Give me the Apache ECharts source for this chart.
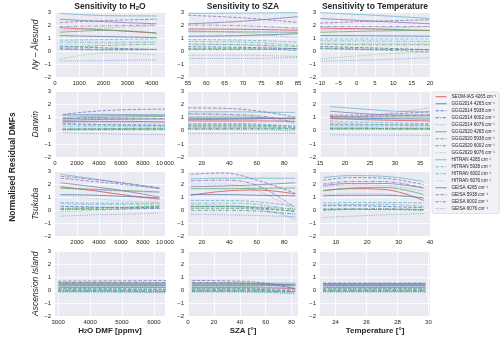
<!DOCTYPE html>
<html>
<head>
<meta charset="utf-8">
<script src="https://cdn.jsdelivr.net/npm/echarts@6/dist/echarts.min.js"></script>
<style>
html, body { margin: 0; padding: 0; background: #fff; }
#main { width: 500px; height: 338px; }
</style>
</head>
<body>
<div id="main"></div>
<script>
// series (legend order)
var seriesNames = [
    'SEOM-IAS 4265 cm⁻¹',
    'GGG2014 4265 cm⁻¹', 'GGG2014 5938 cm⁻¹', 'GGG2014 6002 cm⁻¹', 'GGG2014 6076 cm⁻¹',
    'GGG2020 4265 cm⁻¹', 'GGG2020 5938 cm⁻¹', 'GGG2020 6002 cm⁻¹', 'GGG2020 6076 cm⁻¹',
    'HITRAN 4265 cm⁻¹', 'HITRAN 5938 cm⁻¹', 'HITRAN 6002 cm⁻¹', 'HITRAN 6076 cm⁻¹',
    'GEISA 4265 cm⁻¹', 'GEISA 5938 cm⁻¹', 'GEISA 6002 cm⁻¹', 'GEISA 6076 cm⁻¹'
];
var siteNames = ['Ny – Ålesund', 'Darwin', 'Tsukuba', 'Ascension Island'];

// ---- Ny-Alesund ----
var nyH2oX = [200, 2200, 4200];
var nyH2o = [
    [1.8, 1.62, 1.38],
    [1.2, 1.12, 1.05], [0.38, 0.25, 0.12], [0.2, 0.15, 0.15], [-0.75, -0.7, -0.65],
    [1.45, 1.6, 1.4], [0.15, 0.1, 0.15], [0.3, 0.45, 0.55], [-0.6, -0.12, -0.28],
    [2.9, 2.72, 2.7], [0.85, 0.9, 0.95], [0.7, 0.7, 0.72], [0.5, 0.6, 0.7],
    [2.45, 2.25, 2.1], [2.2, 2.35, 2.45], [1.9, 1.95, 2.0], [1.6, 1.8, 1.95]
];
var nySzaX = [55, 70, 85];
var nySza = [
    [1.7, 1.68, 1.6],
    [1.15, 1.2, 1.35], [0.35, 0.3, 0.2], [0.15, 0.15, 0.2], [-0.55, -0.55, -0.45],
    [1.5, 1.48, 1.45], [0.2, 0.2, 0.05], [0.55, 0.5, 0.35], [-0.3, -0.3, -0.4],
    [2.9, 2.92, 2.95], [0.9, 0.85, 0.7], [0.75, 0.7, 0.45], [0.5, 0.5, 0.0],
    [2.1, 2.3, 2.65], [2.75, 2.55, 2.2], [2.0, 1.95, 1.75], [1.6, 1.4, 1.0]
];
var nyTempX = [-10, 5, 20];
var nyTemp = [
    [1.77, 1.7, 1.58],
    [1.2, 1.18, 1.15], [0.37, 0.25, 0.12], [0.25, 0.15, 0.12], [-0.75, -0.65, -0.5],
    [1.45, 1.55, 1.6], [0.2, 0.1, -0.05], [0.55, 0.5, 0.5], [-0.6, -0.25, -0.05],
    [2.95, 2.75, 2.5], [0.95, 0.95, 0.95], [0.8, 0.78, 0.75], [0.6, 0.6, 0.6],
    [2.5, 2.3, 2.1], [2.15, 2.3, 2.4], [1.9, 1.9, 1.9], [1.6, 1.75, 1.9]
];

// ---- Darwin ----
var dwH2oX = [700, 3000, 6000, 10000];
var dwH2o = [
    [0.7, 0.72, 0.72, 0.68],
    [1.2, 1.22, 1.22, 1.2], [0.55, 0.5, 0.45, 0.4], [0.1, 0.12, 0.12, 0.12], [-0.15, -0.2, -0.25, -0.3],
    [0.9, 1.0, 1.05, 1.1], [0.15, 0.15, 0.18, 0.2], [0.1, 0.1, 0.12, 0.15], [0.0, 0.05, 0.05, 0.05],
    [1.0, 1.1, 1.15, 1.2], [0.5, 0.45, 0.45, 0.45], [0.35, 0.35, 0.35, 0.35], [0.2, 0.2, 0.2, 0.2],
    [0.8, 0.85, 0.88, 0.9], [1.25, 1.45, 1.6, 1.65], [0.95, 0.95, 0.95, 0.95], [0.65, 0.65, 0.62, 0.6]
];
var dwSzaX = [10, 40, 65, 88];
var dwSza = [
    [0.75, 0.75, 0.75, 0.72],
    [0.95, 0.95, 0.95, 0.95], [0.45, 0.45, 0.42, 0.35], [0.15, 0.15, 0.15, 0.15], [-0.2, -0.2, -0.2, -0.2],
    [1.05, 1.05, 1.0, 0.9], [0.3, 0.3, 0.3, 0.25], [0.2, 0.2, 0.2, 0.15], [0.1, 0.1, 0.05, 0.0],
    [1.45, 1.45, 1.42, 1.4], [0.55, 0.55, 0.5, 0.3], [0.4, 0.4, 0.35, 0.1], [0.3, 0.28, 0.2, -0.15],
    [0.85, 0.88, 0.92, 1.0], [1.75, 1.7, 1.45, 1.05], [1.3, 1.25, 1.1, 0.65], [1.25, 1.2, 1.0, 0.5]
];
var dwTempX = [17, 24, 30, 37];
var dwTemp = [
    [0.95, 0.85, 0.8, 0.75],
    [1.0, 0.95, 0.92, 0.9], [0.45, 0.45, 0.45, 0.45], [0.2, 0.2, 0.15, 0.15], [-0.3, -0.32, -0.33, -0.35],
    [1.1, 1.05, 1.05, 1.05], [0.2, 0.2, 0.2, 0.2], [0.15, 0.15, 0.15, 0.15], [0.1, 0.1, 0.1, 0.1],
    [1.85, 1.65, 1.5, 1.45], [0.7, 0.65, 0.6, 0.55], [0.55, 0.5, 0.45, 0.4], [0.35, 0.35, 0.3, 0.3],
    [1.5, 1.3, 1.2, 1.2], [1.2, 1.2, 1.3, 1.45], [1.1, 1.1, 1.15, 1.2], [0.8, 1.1, 1.4, 1.75]
];

// ---- Tsukuba ----
var tsH2oX = [500, 3500, 6500, 9500];
var tsH2o = [
    [1.8, 1.5, 1.15, 0.85],
    [1.2, 1.15, 1.05, 0.95], [0.3, 0.25, 0.2, 0.2], [0.05, 0.05, 0.1, 0.15], [-0.45, -0.35, -0.3, -0.2],
    [1.7, 1.6, 1.5, 1.4], [0.1, 0.15, 0.2, 0.3], [0.15, 0.2, 0.25, 0.35], [-0.1, 0.0, 0.1, 0.3],
    [2.75, 2.4, 2.05, 1.7], [0.6, 0.55, 0.55, 0.55], [0.5, 0.45, 0.45, 0.5], [1.15, 0.9, 0.7, 0.65],
    [2.1, 1.8, 1.45, 1.0], [2.45, 2.2, 1.95, 1.65], [2.6, 2.35, 2.05, 1.7], [1.7, 1.55, 1.45, 1.35]
];
var tsSzaX = [12, 35, 60, 88];
var tsSza = [
    [1.15, 1.45, 1.55, 1.25],
    [1.2, 1.2, 1.15, 1.1], [0.3, 0.3, 0.2, -0.1], [0.0, 0.0, -0.05, -0.3], [-0.3, -0.35, -0.4, -0.5],
    [1.65, 1.65, 1.68, 1.7], [0.15, 0.15, 0.1, -0.05], [0.3, 0.3, 0.25, 0.1], [0.25, 0.25, 0.1, -0.6],
    [2.4, 2.45, 2.45, 2.45], [0.75, 0.75, 0.65, 0.3], [0.55, 0.55, 0.45, 0.0], [0.45, 0.4, 0.2, -0.7],
    [1.8, 1.85, 1.95, 2.1], [2.75, 2.85, 2.3, 1.3], [2.25, 2.3, 1.9, 0.2], [2.0, 2.0, 1.5, 0.0]
];
var tsTempX = [6, 15, 25, 38];
var tsTemp = [
    [1.5, 1.65, 1.6, 0.75],
    [1.1, 1.15, 1.15, 0.95], [0.35, 0.35, 0.3, 0.2], [0.1, 0.1, 0.1, 0.05], [-0.55, -0.45, -0.35, -0.25],
    [1.5, 1.7, 1.75, 1.2], [0.0, 0.05, 0.05, 0.0], [0.05, 0.1, 0.1, 0.05], [0.0, 0.05, 0.05, 0.0],
    [2.5, 2.65, 2.6, 2.2], [0.55, 0.6, 0.6, 0.55], [0.4, 0.45, 0.45, 0.3], [1.2, 1.3, 1.25, 0.9],
    [1.9, 2.05, 2.05, 1.7], [2.3, 2.5, 2.45, 1.95], [2.0, 2.2, 2.2, 1.7], [1.8, 1.95, 1.9, 1.45]
];

// ---- Ascension Island ----
var asH2oX = [3000, 4800, 6600];
var asH2o = [
    [0.2, 0.2, 0.2],
    [0.35, 0.35, 0.35], [0.1, 0.08, 0.05], [-0.05, -0.05, -0.08], [-0.1, -0.12, -0.15],
    [0.45, 0.45, 0.42], [-0.05, -0.05, -0.1], [0.0, -0.02, -0.05], [-0.1, -0.12, -0.2],
    [0.5, 0.5, 0.48], [0.15, 0.12, 0.1], [0.05, 0.0, -0.05], [-0.15, -0.15, -0.2],
    [0.55, 0.55, 0.55], [0.7, 0.72, 0.75], [0.6, 0.6, 0.6], [0.3, 0.3, 0.3]
];
var asSzaX = [3, 30, 60, 83];
var asSza = [
    [0.2, 0.2, 0.18, 0.15],
    [0.35, 0.35, 0.35, 0.35], [0.1, 0.1, 0.05, -0.05], [-0.05, -0.05, -0.08, -0.15], [-0.1, -0.1, -0.15, -0.25],
    [0.45, 0.45, 0.45, 0.45], [-0.05, -0.05, -0.05, -0.1], [0.0, 0.0, -0.02, -0.1], [-0.1, -0.1, -0.15, -0.3],
    [0.5, 0.5, 0.55, 0.55], [0.15, 0.15, 0.12, 0.05], [0.05, 0.05, 0.0, -0.1], [-0.15, -0.15, -0.18, -0.2],
    [0.55, 0.55, 0.5, 0.4], [0.75, 0.72, 0.55, 0.1], [0.6, 0.58, 0.45, 0.15], [0.3, 0.3, 0.25, 0.1]
];
var asTempX = [23.2, 26.5, 29.8];
var asTemp = [
    [0.2, 0.2, 0.2],
    [0.35, 0.35, 0.35], [0.1, 0.1, 0.1], [-0.05, -0.05, -0.05], [-0.1, -0.1, -0.1],
    [0.4, 0.4, 0.4], [-0.05, -0.05, -0.05], [0.0, 0.0, 0.0], [-0.1, -0.1, -0.1],
    [0.45, 0.45, 0.45], [0.15, 0.15, 0.15], [0.05, 0.05, 0.05], [-0.15, -0.15, -0.15],
    [0.5, 0.5, 0.5], [0.55, 0.55, 0.55], [0.5, 0.5, 0.5], [0.3, 0.3, 0.3]
];

// tick labels per panel
var nyTicks = [[0, 1000, 2000, 3000, 4000], [55, 60, 65, 70, 75, 80, 85], [-10, -5, 0, 5, 10, 15, 20]];
var dwTicks = [[0, 2000, 4000, 6000, 8000, 10000], [20, 40, 60, 80], [15, 20, 25, 30, 35]];
var tsTicks = [[2000, 4000, 6000, 8000, 10000], [20, 40, 60, 80], [10, 20, 30, 40]];
var asTicks = [[3000, 4000, 5000, 6000], [0, 20, 40, 60, 80], [24, 26, 28, 30]];

var panelX = [nyH2oX, nySzaX, nyTempX, dwH2oX, dwSzaX, dwTempX, tsH2oX, tsSzaX, tsTempX, asH2oX, asSzaX, asTempX];
var panelY = [nyH2o, nySza, nyTemp, dwH2o, dwSza, dwTemp, tsH2o, tsSza, tsTemp, asH2o, asSza, asTemp];
var panelTicks = nyTicks.concat(dwTicks, tsTicks, asTicks);
var panelRange = [[0, 4550], [55, 85], [-10, 20],
                  [0, 10000], [10, 90], [15, 37],
                  [0, 10000], [10, 90], [5, 40],
                  [2900, 6350], [0, 85], [23, 30.1]];

var colours = { seom: '#d9453f', ggg14: '#4c72b0', ggg20: '#55a868', hitran: '#64b5cd', geisa: '#8172b2' };
var seriesColour = [colours.seom,
    colours.ggg14, colours.ggg14, colours.ggg14, colours.ggg14,
    colours.ggg20, colours.ggg20, colours.ggg20, colours.ggg20,
    colours.hitran, colours.hitran, colours.hitran, colours.hitran,
    colours.geisa, colours.geisa, colours.geisa, colours.geisa];
var dashStyles = ['solid', [3.5, 1.5], [3.5, 1.2, 1, 1.2], [1, 1.2]];

var font = 'Liberation Sans, Arial, sans-serif';
var txt = '#262626';
var colLeft = [55, 188, 320];
var rowTop = [12, 91.5, 171, 251];
var panelW = 110, panelH = 65.5;

function fmtNum(v) {
    if (v < 0) return '\u2212' + (-v);
    if (v >= 10000) return '10\u2009000';
    return '' + v;
}

var subRich = {
    a: { fontSize: 8, fontWeight: 'bold', color: txt, fontFamily: font },
    s: { fontSize: 5.5, fontWeight: 'bold', color: txt, fontFamily: font, verticalAlign: 'bottom', padding: [3, 0, 0, 0] }
};
var xNames = ['{a|H}{s|2}{a|O DMF [ppmv]}', '{a|SZA [°]}', '{a|Temperature [°]}'];

var grids = [], xAxes = [], yAxes = [], series = [];
for (var p = 0; p < 12; p++) {
    var r = Math.floor(p / 3), c = p % 3;
    grids.push({
        left: colLeft[c], top: rowTop[r], width: panelW, height: panelH,
        show: true, backgroundColor: '#eaeaf2', borderWidth: 0
    });
    xAxes.push({
        gridIndex: p, type: 'value',
        min: panelRange[p][0], max: panelRange[p][1],
        axisLine: { show: false },
        axisTick: { show: false, customValues: panelTicks[p] },
        axisLabel: { customValues: panelTicks[p], fontSize: 6, color: txt, margin: 3, formatter: fmtNum, hideOverlap: false },
        splitLine: { show: true, lineStyle: { color: '#ffffff', width: 0.8 } },
        name: r === 3 ? xNames[c] : '',
        nameLocation: 'middle', nameGap: 9,
        nameTextStyle: { rich: subRich }
    });
    yAxes.push({
        gridIndex: p, type: 'value', min: -2, max: 3, interval: 1,
        axisLine: { show: false },
        axisTick: { show: false },
        axisLabel: { fontSize: 6, color: txt, margin: 4, formatter: fmtNum },
        splitLine: { show: true, lineStyle: { color: '#ffffff', width: 0.8 } },
        name: c === 0 ? siteNames[r] : '',
        nameLocation: 'middle', nameGap: 15, nameRotate: 90,
        nameTextStyle: { fontStyle: 'italic', fontSize: 8.5, color: txt, fontFamily: font }
    });
    for (var s = 0; s < seriesNames.length; s++) {
        var xs = panelX[p], ys = panelY[p][s], pts = [];
        for (var i = 0; i < xs.length; i++) pts.push([xs[i], ys[i]]);
        var k = s === 0 ? 0 : (s - 1) % 4;
        series.push({
            type: 'line', name: seriesNames[s],
            xAxisIndex: p, yAxisIndex: p,
            data: pts, smooth: 0.4,
            symbol: 'none', showSymbol: false,
            color: seriesColour[s],
            lineStyle: { width: 0.9, type: dashStyles[k], opacity: k === 3 ? 0.6 : 0.85 },
            silent: true, animation: false, z: 3
        });
    }
}

var myChart = echarts.init(document.getElementById('main'), null, { renderer: 'canvas' });
var option = {
    animation: false,
    textStyle: { fontFamily: font },
    grid: grids,
    xAxis: xAxes,
    yAxis: yAxes,
    series: series,
    legend: {
        data: seriesNames,
        orient: 'vertical',
        left: 432, top: 92,
        itemWidth: 11, itemHeight: 4, itemGap: 1.5,
        padding: [2, 3, 2, 3],
        selectedMode: false,
        itemStyle: { opacity: 0 },
        lineStyle: { width: 1 },
        backgroundColor: 'rgba(240,240,246,0.9)',
        borderColor: '#cccccc', borderWidth: 0.5, borderRadius: 2,
        textStyle: { fontSize: 4.6, lineHeight: 5.5, color: txt, fontFamily: font }
    },
    graphic: [
        { type: 'text', x: 110, y: 7, style: { text: '{a|Sensitivity to H}{s|2}{a|O}', rich: {
            a: { fontSize: 8.5, fontWeight: 'bold', fill: txt, fontFamily: font },
            s: { fontSize: 6, fontWeight: 'bold', fill: txt, fontFamily: font, verticalAlign: 'bottom' } },
            align: 'center', verticalAlign: 'middle' } },
        { type: 'text', x: 243, y: 7, style: { text: 'Sensitivity to SZA', fontSize: 8.5, fontWeight: 'bold', fill: txt, fontFamily: font, align: 'center', verticalAlign: 'middle' } },
        { type: 'text', x: 375, y: 7, style: { text: 'Sensitivity to Temperature', fontSize: 8.5, fontWeight: 'bold', fill: txt, fontFamily: font, align: 'center', verticalAlign: 'middle' } },
        { type: 'text', x: 13, y: 167, rotation: Math.PI / 2, style: { text: 'Normalised Residual DMFs', fontSize: 8.5, fontWeight: 'bold', fill: txt, fontFamily: font, align: 'center', verticalAlign: 'middle' } }
    ]
};
myChart.setOption(option);
</script>
</body>
</html>
